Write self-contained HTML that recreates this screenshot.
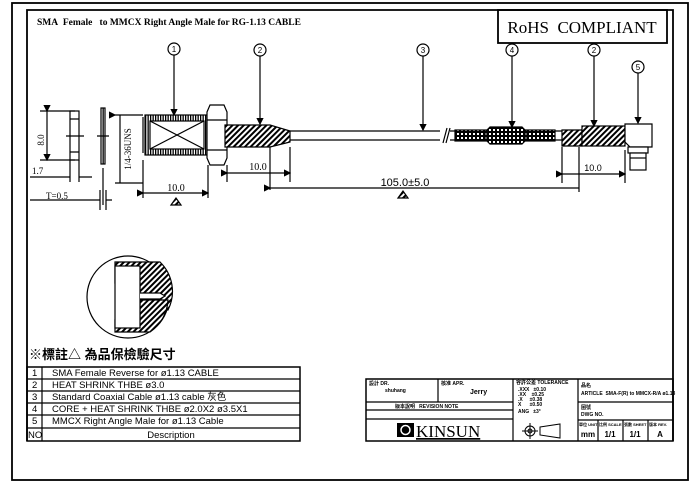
<!DOCTYPE html>
<html><head><meta charset="utf-8"><style>
html,body{margin:0;padding:0;background:#fff;}
svg{display:block;}
text{font-family:"Liberation Sans","Noto Sans CJK TC",sans-serif;fill:#000;}
.s{font-family:"Liberation Serif","Noto Serif CJK SC",serif;}
</style></head><body>
<svg width="700" height="491" viewBox="0 0 700 491" xmlns="http://www.w3.org/2000/svg">
<defs>
<pattern id="h" width="4" height="4" patternUnits="userSpaceOnUse" patternTransform="rotate(45)"><rect width="4" height="4" fill="#fff"/><rect width="2" height="4" fill="#000"/></pattern>
<pattern id="c" width="4" height="4" patternUnits="userSpaceOnUse"><rect width="4" height="4" fill="#000"/><rect x="1" y="1" width="2" height="2" fill="#fff"/></pattern>
<pattern id="t" width="2.5" height="4" patternUnits="userSpaceOnUse"><rect width="2.5" height="4" fill="#fff"/><rect width="1.3" height="4" fill="#000"/></pattern>
<marker id="a" markerWidth="6" markerHeight="6" refX="5" refY="3" orient="auto"><path d="M0,0 L6,3 L0,6z" fill="#000"/></marker>
</defs>
<g fill="none" stroke="#000">
<rect x="12" y="3" width="676" height="477" stroke-width="1.8"/>
<path d="M27,441 V10 H673 V441" stroke-width="1.8"/>
<rect x="498" y="10" width="169" height="33" stroke-width="1.8"/>
</g>
<text x="37" y="25" class="s" font-size="9.5" font-weight="bold">SMA&#160; Female&#160;&#160; to MMCX Right Angle Male for RG-1.13 CABLE</text>
<text x="582" y="33" class="s" font-size="17" text-anchor="middle">RoHS&#160; COMPLIANT</text>

<!-- left views -->
<g stroke="#000" fill="none" stroke-width="1.2">
<rect x="70" y="111" width="9" height="49"/><path d="M70,119H79M70,152H79M66,136H84"/>
<path d="M40,111H75M40,160H75"/><path d="M47,111V160" marker-start="url(#a)" marker-end="url(#a)"/>
<rect x="101" y="108" width="4" height="56" fill="url(#t)"/><path d="M97,136H109M103,168V205"/>
<path d="M70,160V182M79,160V182M30,177H70M79,177H92"/>
<path d="M30,200H100M106,200H112M100,190V210M106,190V210"/>
<path d="M115,115H143M115,183H143M120,115V183" marker-start="url(#a)"/>
</g>
<text x="44" y="140" font-size="9" class="s" transform="rotate(-90 44 140)" text-anchor="middle">8.0</text>
<text x="32" y="174" font-size="9" class="s">1.7</text>
<text x="46" y="199" font-size="9" class="s">T=0.5</text>
<text x="131" y="149" font-size="9" class="s" transform="rotate(-90 131 149)" text-anchor="middle">1/4-36UNS</text>

<!-- connector -->
<g stroke="#000" stroke-width="1.2">
<rect x="145" y="115" width="63" height="40" fill="url(#t)"/>
<rect x="150" y="121" width="54" height="28" fill="#fff"/>
<path d="M150,121L204,149M150,149L204,121" fill="none"/>
<path d="M143,117V153" fill="none"/>
<path d="M210,105H224L227,112V158L224,165H210L207,158V112Z" fill="#fff"/>
<path d="M207,120H227M207,150H227" fill="none"/>
<path d="M225,125H270L290,131V142L270,147H225Z" fill="url(#h)"/>
<path d="M290,131H440M290,140H440" fill="none"/>
<path d="M443,143L447,128M446,143L450,128" fill="none"/>
<path d="M450,131H455M450,140H455" fill="none"/>
<rect x="455" y="130" width="100" height="11" fill="url(#c)"/>
<path d="M490,127H522L526,131V140L522,144H490L486,140V131Z" fill="url(#c)"/>
<path d="M555,131H562M555,140H562" fill="none"/>
<path d="M562,130H582V146H562Z" fill="url(#h)"/>
<rect x="582" y="126" width="43" height="20" fill="url(#h)"/>
<path d="M625,124H652V147H630L625,142Z" fill="#fff"/>
<rect x="628" y="147" width="20" height="6" fill="#fff"/>
<rect x="630" y="153" width="16" height="17" fill="#fff"/>
<path d="M630,158H646" fill="none"/>
</g>
<!-- balloons -->
<g stroke="#000" fill="#fff" stroke-width="1.2">
<circle cx="174" cy="49" r="6"/><circle cx="260" cy="50" r="6"/><circle cx="423" cy="50" r="6"/><circle cx="512" cy="50" r="6"/><circle cx="594" cy="50" r="6"/><circle cx="638" cy="67" r="6"/>
</g>
<g stroke="#000" fill="none" marker-end="url(#a)" stroke-width="1.2">
<path d="M174,55V115"/><path d="M260,56V124"/><path d="M423,56V130"/><path d="M512,56V127"/><path d="M594,56V126"/><path d="M638,73V123"/>
</g>
<g font-size="8" text-anchor="middle">
<text x="174" y="52">1</text><text x="260" y="53">2</text><text x="423" y="53">3</text><text x="512" y="53">4</text><text x="594" y="53">2</text><text x="638" y="70">5</text>
</g>
<!-- dims -->
<g stroke="#000" fill="none" stroke-width="1.2">
<path d="M143,160V198M208,165V198"/><path d="M143,193H208" marker-start="url(#a)" marker-end="url(#a)"/>
<path d="M227,165V182M290,147V182"/><path d="M227,173H290" marker-start="url(#a)" marker-end="url(#a)"/>
<path d="M270,147V190M579,147V192"/><path d="M270,188H579" marker-start="url(#a)"/>
<path d="M562,147V183M625,150V183"/><path d="M562,174H625" marker-start="url(#a)" marker-end="url(#a)"/>
<path d="M171,205L176,198L181,205Z" fill="url(#h)"/><path d="M398,198L403,191L408,198Z" fill="url(#h)"/>
</g>
<text x="176" y="191" font-size="10" class="s" text-anchor="middle">10.0</text>
<text x="258" y="170" font-size="10" class="s" text-anchor="middle">10.0</text>
<text x="405" y="186" font-size="11" text-anchor="middle">105.0±5.0</text>
<text x="593" y="171" font-size="9" text-anchor="middle">10.0</text>

<!-- detail circle -->
<g stroke="#000" stroke-width="1.2">
<circle cx="128" cy="297" r="41" fill="#fff"/>
<path d="M115,262 L160,262 A41,41 0 0 1 168,310 L140,310 L140,283 L115,283Z" fill="url(#h)"/>
<path d="M115,320 L140,320 L140,300 L168,300 A41,41 0 0 1 150,332 L115,332Z" fill="url(#h)"/>
<rect x="115" y="266" width="25" height="62" fill="#fff"/>
<path d="M140,293H160L165,296L160,299H140" fill="#fff"/>
</g>

<!-- parts table -->
<text x="29" y="359" font-size="13" font-weight="bold">※標註△ 為品保檢驗尺寸</text>
<g stroke="#000" fill="none">
<rect x="27" y="367" width="273" height="74" stroke-width="1.5"/>
<path d="M27,379H300M27,391H300M27,403H300M27,415H300M27,428H300M42,367V441" stroke-width="1.2"/>
</g>
<g font-size="9.5">
<text x="32" y="376">1</text><text x="32" y="388">2</text><text x="32" y="400">3</text><text x="32" y="412">4</text><text x="32" y="424">5</text><text x="28" y="438">NO</text>
<text x="52" y="376">SMA Female Reverse for ø1.13 CABLE</text>
<text x="52" y="388">HEAT SHRINK THBE ø3.0</text>
<text x="52" y="400">Standard Coaxial Cable ø1.13 cable 灰色</text>
<text x="52" y="412">CORE + HEAT SHRINK THBE ø2.0X2 ø3.5X1</text>
<text x="52" y="424">MMCX Right Angle Male for ø1.13 Cable</text>
<text x="171" y="438" text-anchor="middle">Description</text>
</g>

<!-- title block -->
<g stroke="#000" fill="none">
<rect x="366" y="379" width="307" height="62" stroke-width="1.5"/>
<path d="M438,379V402M513,379V441M578,379V441M366,402H513M366,410H513M366,419H513M578,402H673M578,420H673M598,420V441M623,420V441M648,420V441" stroke-width="1.2"/>
<circle cx="530" cy="431" r="5"/><circle cx="530" cy="431" r="2"/><path d="M522,431H538M530,423V439M540,427L560,424V438L540,435Z"/>
</g>
<g font-size="5" font-weight="bold">
<text x="369" y="385">設計 DR.</text><text x="385" y="392">shuhang</text><text x="441" y="385">核准 APR.</text><text x="470" y="394" font-size="7">Jerry</text>
<text x="395" y="408">版本說明&#160;&#160; REVISION NOTE</text>
<text x="516" y="384">容許公差 TOLERANCE</text><text x="518" y="391">.XXX&#160;&#160; ±0.10</text><text x="518" y="396">.XX&#160;&#160;&#160; ±0.25</text><text x="518" y="401">.X&#160;&#160;&#160;&#160; ±0.38</text><text x="518" y="406">X&#160;&#160;&#160;&#160;&#160; ±0.50</text><text x="518" y="413">ANG&#160;&#160; ±3°</text>
<text x="581" y="387">品名</text><text x="581" y="395">ARTICLE&#160; SMA-F(R) to MMCX-R/A ø1.13</text>
<text x="581" y="409">圖號</text><text x="581" y="416">DWG NO.</text>
<text x="579" y="426" font-size="4">單位 UNIT</text><text x="599" y="426" font-size="4">比例 SCALE</text><text x="624" y="426" font-size="4">張數 SHEET</text><text x="649" y="426" font-size="4">版本 REV.</text>
</g>
<g font-size="8" font-weight="bold" text-anchor="middle">
<text x="588" y="437">mm</text><text x="610" y="437">1/1</text><text x="635" y="437">1/1</text><text x="660" y="437">A</text>
</g>
<rect x="397" y="423" width="17" height="14" fill="#000"/><circle cx="405.5" cy="430" r="4.5" fill="none" stroke="#fff" stroke-width="1.5"/>
<text x="416" y="437" class="s" font-size="17" text-decoration="underline">KINSUN</text>
</svg>
</body></html>
